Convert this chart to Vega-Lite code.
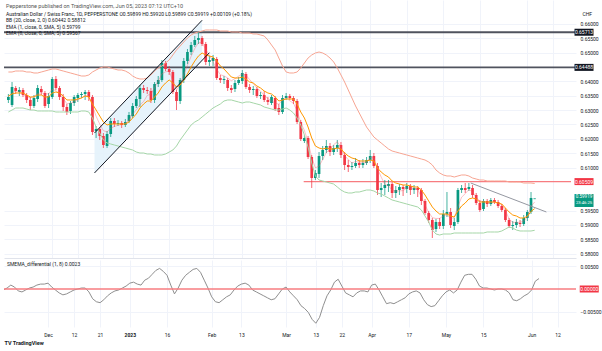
{
"$schema": "https://vega.github.io/schema/vega-lite/v6.json",
"autosize": {"type": "pad"},
"padding": {"left": 3, "top": 0, "right": 4, "bottom": 4},
"background": "#ffffff",
"bounds": "flush",
"spacing": 2,
"config": {"view": {"stroke": null}, "font": "Roboto"},
"datasets": {
"bars": [
{"i":-12,"o":0.63352,"h":0.63561,"l":0.63247,"c":0.63457,"bu":0.64327,"bl":0.62934,"e8":0.63491,"e1":0.63469,"d":-0.00022},
{"i":-11,"o":0.63178,"h":0.63979,"l":0.63108,"c":0.63805,"bu":0.64327,"bl":0.63003,"e8":0.63561,"e1":0.63583,"d":0.00022},
{"i":-10,"o":0.63770,"h":0.63840,"l":0.63561,"c":0.63666,"bu":0.64362,"bl":0.63073,"e8":0.63596,"e1":0.63683,"d":0.00087},
{"i":-9,"o":0.63631,"h":0.63805,"l":0.63491,"c":0.63700,"bu":0.64362,"bl":0.63073,"e8":0.63596,"e1":0.63639,"d":0.00043},
{"i":-8,"o":0.63700,"h":0.63770,"l":0.63457,"c":0.63526,"bu":0.64362,"bl":0.63073,"e8":0.63596,"e1":0.63553,"d":-0.00043},
{"i":-7,"o":0.63526,"h":0.63596,"l":0.63247,"c":0.63352,"bu":0.64327,"bl":0.63038,"e8":0.63526,"e1":0.63461,"d":-0.00065},
{"i":-6,"o":0.63352,"h":0.63457,"l":0.63003,"c":0.63143,"bu":0.64327,"bl":0.63003,"e8":0.63457,"e1":0.63435,"d":-0.00022},
{"i":-5,"o":0.63143,"h":0.63526,"l":0.63073,"c":0.63422,"bu":0.64293,"bl":0.63003,"e8":0.63457,"e1":0.63479,"d":0.00022},
{"i":-4,"o":0.63387,"h":0.63875,"l":0.63282,"c":0.63770,"bu":0.64293,"bl":0.62969,"e8":0.63526,"e1":0.63569,"d":0.00043},
{"i":-3,"o":0.63735,"h":0.63840,"l":0.63526,"c":0.63631,"bu":0.64327,"bl":0.62969,"e8":0.63526,"e1":0.63613,"d":0.00087},
{"i":-2,"o":0.63596,"h":0.63666,"l":0.63073,"c":0.63143,"bu":0.64362,"bl":0.62969,"e8":0.63457,"e1":0.63566,"d":0.00109},
{"i":-1,"o":0.63213,"h":0.63596,"l":0.63073,"c":0.63491,"bu":0.64397,"bl":0.62969,"e8":0.63457,"e1":0.63566,"d":0.00109},
{"i":0,"o":0.63457,"h":0.64153,"l":0.63387,"c":0.64084,"bu":0.64432,"bl":0.62969,"e8":0.63596,"e1":0.63726,"d":0.00130},
{"i":1,"o":0.64084,"h":0.64188,"l":0.63700,"c":0.63770,"bu":0.64432,"bl":0.62934,"e8":0.63631,"e1":0.63674,"d":0.00043},
{"i":2,"o":0.63770,"h":0.63840,"l":0.63352,"c":0.63457,"bu":0.64397,"bl":0.62934,"e8":0.63596,"e1":0.63574,"d":-0.00022},
{"i":3,"o":0.63457,"h":0.63561,"l":0.62969,"c":0.63108,"bu":0.64362,"bl":0.62934,"e8":0.63491,"e1":0.63404,"d":-0.00087},
{"i":4,"o":0.63108,"h":0.63213,"l":0.62829,"c":0.62934,"bu":0.64327,"bl":0.62934,"e8":0.63352,"e1":0.63222,"d":-0.00130},
{"i":5,"o":0.62969,"h":0.63317,"l":0.62864,"c":0.63247,"bu":0.64293,"bl":0.62934,"e8":0.63352,"e1":0.63243,"d":-0.00109},
{"i":6,"o":0.63247,"h":0.63526,"l":0.63143,"c":0.63457,"bu":0.64258,"bl":0.62934,"e8":0.63352,"e1":0.63287,"d":-0.00065},
{"i":7,"o":0.63422,"h":0.63596,"l":0.63282,"c":0.63526,"bu":0.64223,"bl":0.62934,"e8":0.63387,"e1":0.63365,"d":-0.00022},
{"i":8,"o":0.63526,"h":0.63631,"l":0.63422,"c":0.63561,"bu":0.64188,"bl":0.62969,"e8":0.63422,"e1":0.63422,"d":0},
{"i":9,"o":0.63561,"h":0.63700,"l":0.63352,"c":0.63631,"bu":0.64188,"bl":0.62969,"e8":0.63491,"e1":0.63513,"d":0.00022},
{"i":10,"o":0.63631,"h":0.63700,"l":0.63317,"c":0.63457,"bu":0.64223,"bl":0.62934,"e8":0.63457,"e1":0.63479,"d":0.00022},
{"i":11,"o":0.63457,"h":0.63526,"l":0.62132,"c":0.62237,"bu":0.64327,"bl":0.62725,"e8":0.63213,"e1":0.63148,"d":-0.00065},
{"i":12,"o":0.62272,"h":0.62446,"l":0.62028,"c":0.62341,"bu":0.64397,"bl":0.62411,"e8":0.63003,"e1":0.62786,"d":-0.00217},
{"i":13,"o":0.62341,"h":0.62411,"l":0.61958,"c":0.62098,"bu":0.64467,"bl":0.62202,"e8":0.62794,"e1":0.62511,"d":-0.00283},
{"i":14,"o":0.62098,"h":0.62202,"l":0.61680,"c":0.61784,"bu":0.64502,"bl":0.61958,"e8":0.62585,"e1":0.62281,"d":-0.00304},
{"i":15,"o":0.61749,"h":0.62272,"l":0.61680,"c":0.62167,"bu":0.64502,"bl":0.61854,"e8":0.62481,"e1":0.62242,"d":-0.00239},
{"i":16,"o":0.62167,"h":0.62725,"l":0.62063,"c":0.62620,"bu":0.64467,"bl":0.61819,"e8":0.62516,"e1":0.62364,"d":-0.00152},
{"i":17,"o":0.62620,"h":0.62725,"l":0.62411,"c":0.62516,"bu":0.64432,"bl":0.61784,"e8":0.62516,"e1":0.62429,"d":-0.00087},
{"i":18,"o":0.62516,"h":0.62655,"l":0.62446,"c":0.62551,"bu":0.64397,"bl":0.61749,"e8":0.62516,"e1":0.62473,"d":-0.00043},
{"i":19,"o":0.62551,"h":0.62620,"l":0.62376,"c":0.62481,"bu":0.64397,"bl":0.61714,"e8":0.62516,"e1":0.62494,"d":-0.00022},
{"i":20,"o":0.62481,"h":0.62690,"l":0.62411,"c":0.62585,"bu":0.64362,"bl":0.61680,"e8":0.62516,"e1":0.62538,"d":0.00022},
{"i":21,"o":0.62620,"h":0.62934,"l":0.62551,"c":0.62829,"bu":0.64293,"bl":0.61645,"e8":0.62585,"e1":0.62650,"d":0.00065},
{"i":22,"o":0.62794,"h":0.63247,"l":0.62725,"c":0.63143,"bu":0.64188,"bl":0.61610,"e8":0.62725,"e1":0.62855,"d":0.00130},
{"i":23,"o":0.63143,"h":0.63491,"l":0.63073,"c":0.63387,"bu":0.64118,"bl":0.61540,"e8":0.62864,"e1":0.63016,"d":0.00152},
{"i":24,"o":0.63387,"h":0.63875,"l":0.63108,"c":0.63770,"bu":0.64084,"bl":0.61505,"e8":0.63073,"e1":0.63182,"d":0.00109},
{"i":25,"o":0.63770,"h":0.63875,"l":0.63596,"c":0.63700,"bu":0.64084,"bl":0.61505,"e8":0.63213,"e1":0.63300,"d":0.00087},
{"i":26,"o":0.63700,"h":0.63805,"l":0.63561,"c":0.63666,"bu":0.64118,"bl":0.61470,"e8":0.63317,"e1":0.63513,"d":0.00196},
{"i":27,"o":0.63666,"h":0.63770,"l":0.63247,"c":0.63352,"bu":0.64223,"bl":0.61470,"e8":0.63317,"e1":0.63556,"d":0.00239},
{"i":28,"o":0.63352,"h":0.63979,"l":0.63247,"c":0.63909,"bu":0.64362,"bl":0.61436,"e8":0.63457,"e1":0.63783,"d":0.00326},
{"i":29,"o":0.63909,"h":0.64188,"l":0.63805,"c":0.64049,"bu":0.64467,"bl":0.61436,"e8":0.63596,"e1":0.64009,"d":0.00413},
{"i":30,"o":0.64049,"h":0.64746,"l":0.63979,"c":0.64641,"bu":0.64537,"bl":0.61436,"e8":0.63805,"e1":0.64262,"d":0.00457},
{"i":31,"o":0.64641,"h":0.64711,"l":0.64362,"c":0.64432,"bu":0.64641,"bl":0.61470,"e8":0.63944,"e1":0.64335,"d":0.00391},
{"i":32,"o":0.64432,"h":0.64537,"l":0.64223,"c":0.64327,"bu":0.64746,"bl":0.61540,"e8":0.64049,"e1":0.64353,"d":0.00304},
{"i":33,"o":0.64327,"h":0.64397,"l":0.63561,"c":0.63631,"bu":0.64920,"bl":0.61610,"e8":0.63944,"e1":0.64031,"d":0.00087},
{"i":34,"o":0.63631,"h":0.63700,"l":0.63003,"c":0.63317,"bu":0.65094,"bl":0.61749,"e8":0.63805,"e1":0.63696,"d":-0.00109},
{"i":35,"o":0.63317,"h":0.64118,"l":0.63213,"c":0.64049,"bu":0.65233,"bl":0.61958,"e8":0.63875,"e1":0.63897,"d":0.00022},
{"i":36,"o":0.64049,"h":0.64815,"l":0.63944,"c":0.64711,"bu":0.65373,"bl":0.62132,"e8":0.64049,"e1":0.64245,"d":0.00196},
{"i":37,"o":0.64711,"h":0.65129,"l":0.64606,"c":0.65024,"bu":0.65512,"bl":0.62307,"e8":0.64258,"e1":0.64562,"d":0.00304},
{"i":38,"o":0.65024,"h":0.65373,"l":0.64920,"c":0.65268,"bu":0.65617,"bl":0.62481,"e8":0.64502,"e1":0.64872,"d":0.00370},
{"i":39,"o":0.65268,"h":0.65582,"l":0.65199,"c":0.65443,"bu":0.65686,"bl":0.62585,"e8":0.64711,"e1":0.65146,"d":0.00435},
{"i":40,"o":0.65443,"h":0.65721,"l":0.65303,"c":0.65512,"bu":0.65721,"bl":0.62655,"e8":0.64885,"e1":0.65342,"d":0.00457},
{"i":41,"o":0.65512,"h":0.65582,"l":0.65233,"c":0.65303,"bu":0.65756,"bl":0.62760,"e8":0.64990,"e1":0.65360,"d":0.00370},
{"i":42,"o":0.65303,"h":0.65373,"l":0.64571,"c":0.64676,"bu":0.65791,"bl":0.62864,"e8":0.64920,"e1":0.65116,"d":0.00196},
{"i":43,"o":0.64676,"h":0.64885,"l":0.64537,"c":0.64746,"bu":0.65791,"bl":0.62969,"e8":0.64885,"e1":0.64907,"d":0.00022},
{"i":44,"o":0.64711,"h":0.64920,"l":0.64537,"c":0.64815,"bu":0.65791,"bl":0.63073,"e8":0.64850,"e1":0.64676,"d":-0.00174},
{"i":45,"o":0.64780,"h":0.64850,"l":0.64049,"c":0.64118,"bu":0.65791,"bl":0.63143,"e8":0.64711,"e1":0.64428,"d":-0.00283},
{"i":46,"o":0.64118,"h":0.64223,"l":0.63944,"c":0.64049,"bu":0.65756,"bl":0.63213,"e8":0.64537,"e1":0.64233,"d":-0.00304},
{"i":47,"o":0.64049,"h":0.64188,"l":0.63909,"c":0.64084,"bu":0.65756,"bl":0.63317,"e8":0.64432,"e1":0.64193,"d":-0.00239},
{"i":48,"o":0.64049,"h":0.64118,"l":0.63666,"c":0.63770,"bu":0.65756,"bl":0.63352,"e8":0.64293,"e1":0.64119,"d":-0.00174},
{"i":49,"o":0.63770,"h":0.63875,"l":0.63596,"c":0.63700,"bu":0.65721,"bl":0.63352,"e8":0.64153,"e1":0.64023,"d":-0.00130},
{"i":50,"o":0.63735,"h":0.64049,"l":0.63631,"c":0.63944,"bu":0.65721,"bl":0.63317,"e8":0.64118,"e1":0.64096,"d":-0.00022},
{"i":51,"o":0.63944,"h":0.64153,"l":0.63875,"c":0.64049,"bu":0.65721,"bl":0.63282,"e8":0.64118,"e1":0.64183,"d":0.00065},
{"i":52,"o":0.64014,"h":0.64397,"l":0.63909,"c":0.64293,"bu":0.65686,"bl":0.63247,"e8":0.64153,"e1":0.64262,"d":0.00109},
{"i":53,"o":0.64258,"h":0.64327,"l":0.63735,"c":0.63805,"bu":0.65686,"bl":0.63282,"e8":0.64084,"e1":0.64214,"d":0.00130},
{"i":54,"o":0.63805,"h":0.63909,"l":0.63596,"c":0.63700,"bu":0.65686,"bl":0.63282,"e8":0.63979,"e1":0.64066,"d":0.00087},
{"i":55,"o":0.63700,"h":0.63840,"l":0.63526,"c":0.63735,"bu":0.65652,"bl":0.63247,"e8":0.63944,"e1":0.63922,"d":-0.00022},
{"i":56,"o":0.63735,"h":0.63805,"l":0.63422,"c":0.63491,"bu":0.65652,"bl":0.63213,"e8":0.63840,"e1":0.63775,"d":-0.00065},
{"i":57,"o":0.63491,"h":0.63631,"l":0.63387,"c":0.63526,"bu":0.65617,"bl":0.63178,"e8":0.63770,"e1":0.63661,"d":-0.00109},
{"i":58,"o":0.63526,"h":0.63666,"l":0.63282,"c":0.63352,"bu":0.65582,"bl":0.63108,"e8":0.63666,"e1":0.63514,"d":-0.00152},
{"i":59,"o":0.63352,"h":0.63457,"l":0.63178,"c":0.63282,"bu":0.65443,"bl":0.63073,"e8":0.63596,"e1":0.63400,"d":-0.00196},
{"i":60,"o":0.63247,"h":0.63526,"l":0.63178,"c":0.63457,"bu":0.65268,"bl":0.63038,"e8":0.63561,"e1":0.63322,"d":-0.00239},
{"i":61,"o":0.63422,"h":0.63491,"l":0.62969,"c":0.63038,"bu":0.65094,"bl":0.63003,"e8":0.63457,"e1":0.63240,"d":-0.00217},
{"i":62,"o":0.63073,"h":0.63213,"l":0.62829,"c":0.62934,"bu":0.64815,"bl":0.63003,"e8":0.63317,"e1":0.63208,"d":-0.00109},
{"i":63,"o":0.62934,"h":0.63526,"l":0.62864,"c":0.63422,"bu":0.64537,"bl":0.63038,"e8":0.63352,"e1":0.63352,"d":0},
{"i":64,"o":0.63422,"h":0.63596,"l":0.63352,"c":0.63491,"bu":0.64327,"bl":0.63073,"e8":0.63387,"e1":0.63430,"d":0.00043},
{"i":65,"o":0.63491,"h":0.63561,"l":0.63352,"c":0.63422,"bu":0.64293,"bl":0.63003,"e8":0.63387,"e1":0.63322,"d":-0.00065},
{"i":66,"o":0.63422,"h":0.63491,"l":0.63213,"c":0.63317,"bu":0.64293,"bl":0.62899,"e8":0.63387,"e1":0.63235,"d":-0.00152},
{"i":67,"o":0.63317,"h":0.63387,"l":0.62516,"c":0.62585,"bu":0.64327,"bl":0.62725,"e8":0.63213,"e1":0.62974,"d":-0.00239},
{"i":68,"o":0.62585,"h":0.62655,"l":0.61923,"c":0.61993,"bu":0.64467,"bl":0.62481,"e8":0.62934,"e1":0.62564,"d":-0.00370},
{"i":69,"o":0.61923,"h":0.62132,"l":0.61854,"c":0.62028,"bu":0.64641,"bl":0.62132,"e8":0.62725,"e1":0.62290,"d":-0.00435},
{"i":70,"o":0.62028,"h":0.62098,"l":0.61296,"c":0.61366,"bu":0.64815,"bl":0.61714,"e8":0.62411,"e1":0.61889,"d":-0.00522},
{"i":71,"o":0.61366,"h":0.61436,"l":0.60286,"c":0.60634,"bu":0.64920,"bl":0.61157,"e8":0.62028,"e1":0.61354,"d":-0.00674},
{"i":72,"o":0.60634,"h":0.60913,"l":0.60564,"c":0.60809,"bu":0.64990,"bl":0.60704,"e8":0.61749,"e1":0.60988,"d":-0.00761},
{"i":73,"o":0.60774,"h":0.61540,"l":0.60634,"c":0.61401,"bu":0.65024,"bl":0.60564,"e8":0.61680,"e1":0.61050,"d":-0.00630},
{"i":74,"o":0.61401,"h":0.61749,"l":0.61261,"c":0.61610,"bu":0.64990,"bl":0.60530,"e8":0.61645,"e1":0.61275,"d":-0.00370},
{"i":75,"o":0.61610,"h":0.61958,"l":0.61505,"c":0.61749,"bu":0.64920,"bl":0.60495,"e8":0.61680,"e1":0.61528,"d":-0.00152},
{"i":76,"o":0.61749,"h":0.61854,"l":0.61401,"c":0.61540,"bu":0.64815,"bl":0.60460,"e8":0.61645,"e1":0.61623,"d":-0.00022},
{"i":77,"o":0.61540,"h":0.61784,"l":0.61436,"c":0.61680,"bu":0.64676,"bl":0.60425,"e8":0.61645,"e1":0.61797,"d":0.00152},
{"i":78,"o":0.61680,"h":0.61958,"l":0.61540,"c":0.61784,"bu":0.64467,"bl":0.60321,"e8":0.61680,"e1":0.61897,"d":0.00217},
{"i":79,"o":0.61784,"h":0.61889,"l":0.61331,"c":0.61436,"bu":0.64223,"bl":0.60216,"e8":0.61645,"e1":0.61710,"d":0.00065},
{"i":80,"o":0.61436,"h":0.61540,"l":0.60913,"c":0.61087,"bu":0.63979,"bl":0.60146,"e8":0.61505,"e1":0.61418,"d":-0.00087},
{"i":81,"o":0.61087,"h":0.61261,"l":0.60843,"c":0.61018,"bu":0.63700,"bl":0.60112,"e8":0.61401,"e1":0.61271,"d":-0.00130},
{"i":82,"o":0.61018,"h":0.61192,"l":0.60913,"c":0.61052,"bu":0.63422,"bl":0.60112,"e8":0.61331,"e1":0.61157,"d":-0.00174},
{"i":83,"o":0.61052,"h":0.61331,"l":0.60983,"c":0.61157,"bu":0.63143,"bl":0.60146,"e8":0.61296,"e1":0.61209,"d":-0.00087},
{"i":84,"o":0.61157,"h":0.61261,"l":0.60983,"c":0.61087,"bu":0.62899,"bl":0.60146,"e8":0.61227,"e1":0.61184,"d":-0.00043},
{"i":85,"o":0.61087,"h":0.61296,"l":0.60983,"c":0.61157,"bu":0.62655,"bl":0.60181,"e8":0.61227,"e1":0.61184,"d":-0.00043},
{"i":86,"o":0.61157,"h":0.61366,"l":0.61087,"c":0.61261,"bu":0.62411,"bl":0.60216,"e8":0.61227,"e1":0.61162,"d":-0.00065},
{"i":87,"o":0.61261,"h":0.61610,"l":0.61157,"c":0.61401,"bu":0.62237,"bl":0.60216,"e8":0.61261,"e1":0.61348,"d":0.00087},
{"i":88,"o":0.61401,"h":0.61505,"l":0.60983,"c":0.61052,"bu":0.62063,"bl":0.60181,"e8":0.61227,"e1":0.61336,"d":0.00109},
{"i":89,"o":0.61052,"h":0.61157,"l":0.60042,"c":0.60216,"bu":0.61958,"bl":0.60112,"e8":0.60983,"e1":0.60961,"d":-0.00022},
{"i":90,"o":0.60216,"h":0.60460,"l":0.59972,"c":0.60286,"bu":0.61854,"bl":0.60077,"e8":0.60843,"e1":0.60669,"d":-0.00174},
{"i":91,"o":0.60286,"h":0.60564,"l":0.60042,"c":0.60390,"bu":0.61749,"bl":0.60007,"e8":0.60739,"e1":0.60413,"d":-0.00326},
{"i":92,"o":0.60355,"h":0.60564,"l":0.60146,"c":0.60425,"bu":0.61645,"bl":0.59937,"e8":0.60669,"e1":0.60365,"d":-0.00304},
{"i":93,"o":0.60425,"h":0.60495,"l":0.59937,"c":0.60112,"bu":0.61575,"bl":0.59868,"e8":0.60530,"e1":0.60204,"d":-0.00326},
{"i":94,"o":0.60112,"h":0.60355,"l":0.59937,"c":0.60216,"bu":0.61540,"bl":0.59833,"e8":0.60460,"e1":0.60177,"d":-0.00283},
{"i":95,"o":0.60216,"h":0.60425,"l":0.60042,"c":0.60321,"bu":0.61505,"bl":0.59798,"e8":0.60425,"e1":0.60186,"d":-0.00239},
{"i":96,"o":0.60321,"h":0.60390,"l":0.60007,"c":0.60251,"bu":0.61470,"bl":0.59763,"e8":0.60390,"e1":0.60194,"d":-0.00196},
{"i":97,"o":0.60251,"h":0.60460,"l":0.60112,"c":0.60355,"bu":0.61436,"bl":0.59728,"e8":0.60390,"e1":0.60281,"d":-0.00109},
{"i":98,"o":0.60355,"h":0.60425,"l":0.60042,"c":0.60216,"bu":0.61401,"bl":0.59693,"e8":0.60355,"e1":0.60290,"d":-0.00065},
{"i":99,"o":0.60216,"h":0.60390,"l":0.60077,"c":0.60286,"bu":0.61366,"bl":0.59659,"e8":0.60321,"e1":0.60278,"d":-0.00043},
{"i":100,"o":0.60286,"h":0.60355,"l":0.59972,"c":0.60216,"bu":0.61331,"bl":0.59624,"e8":0.60321,"e1":0.60234,"d":-0.00087},
{"i":101,"o":0.60216,"h":0.60286,"l":0.59693,"c":0.59833,"bu":0.61296,"bl":0.59519,"e8":0.60216,"e1":0.59977,"d":-0.00239},
{"i":102,"o":0.59833,"h":0.59903,"l":0.59345,"c":0.59415,"bu":0.61261,"bl":0.59310,"e8":0.60042,"e1":0.59694,"d":-0.00348},
{"i":103,"o":0.59415,"h":0.59484,"l":0.59066,"c":0.59171,"bu":0.61192,"bl":0.59101,"e8":0.59833,"e1":0.59442,"d":-0.00391},
{"i":104,"o":0.59171,"h":0.59241,"l":0.58544,"c":0.58822,"bu":0.61087,"bl":0.58822,"e8":0.59624,"e1":0.59254,"d":-0.00370},
{"i":105,"o":0.58857,"h":0.59206,"l":0.58753,"c":0.59101,"bu":0.60913,"bl":0.58683,"e8":0.59484,"e1":0.59223,"d":-0.00261},
{"i":106,"o":0.59101,"h":0.59241,"l":0.58857,"c":0.58962,"bu":0.60809,"bl":0.58648,"e8":0.59380,"e1":0.59228,"d":-0.00152},
{"i":107,"o":0.58962,"h":0.59519,"l":0.58857,"c":0.59380,"bu":0.60739,"bl":0.58683,"e8":0.59380,"e1":0.59315,"d":-0.00065},
{"i":108,"o":0.59380,"h":0.60146,"l":0.59275,"c":0.59450,"bu":0.60704,"bl":0.58683,"e8":0.59380,"e1":0.59358,"d":-0.00022},
{"i":109,"o":0.59450,"h":0.59589,"l":0.58892,"c":0.58997,"bu":0.60704,"bl":0.58683,"e8":0.59310,"e1":0.59223,"d":-0.00087},
{"i":110,"o":0.58962,"h":0.59241,"l":0.58822,"c":0.59101,"bu":0.60669,"bl":0.58718,"e8":0.59275,"e1":0.59253,"d":-0.00022},
{"i":111,"o":0.59101,"h":0.60286,"l":0.59031,"c":0.60216,"bu":0.60704,"bl":0.58718,"e8":0.59484,"e1":0.59636,"d":0.00152},
{"i":112,"o":0.60216,"h":0.60390,"l":0.60112,"c":0.60286,"bu":0.60739,"bl":0.58718,"e8":0.59659,"e1":0.59963,"d":0.00304},
{"i":113,"o":0.60286,"h":0.60460,"l":0.60112,"c":0.60216,"bu":0.60739,"bl":0.58718,"e8":0.59763,"e1":0.60089,"d":0.00326},
{"i":114,"o":0.60251,"h":0.60460,"l":0.60181,"c":0.60321,"bu":0.60704,"bl":0.58718,"e8":0.59903,"e1":0.60229,"d":0.00326},
{"i":115,"o":0.60286,"h":0.60390,"l":0.59937,"c":0.60042,"bu":0.60634,"bl":0.58718,"e8":0.59937,"e1":0.60154,"d":0.00217},
{"i":116,"o":0.60042,"h":0.60112,"l":0.59693,"c":0.59763,"bu":0.60599,"bl":0.58718,"e8":0.59903,"e1":0.59968,"d":0.00065},
{"i":117,"o":0.59763,"h":0.59868,"l":0.59450,"c":0.59519,"bu":0.60564,"bl":0.58718,"e8":0.59798,"e1":0.59820,"d":0.00022},
{"i":118,"o":0.59554,"h":0.59903,"l":0.59484,"c":0.59833,"bu":0.60564,"bl":0.58718,"e8":0.59798,"e1":0.59820,"d":0.00022},
{"i":119,"o":0.59833,"h":0.59903,"l":0.59624,"c":0.59728,"bu":0.60530,"bl":0.58753,"e8":0.59798,"e1":0.59798,"d":0},
{"i":120,"o":0.59728,"h":0.59937,"l":0.59659,"c":0.59868,"bu":0.60530,"bl":0.58753,"e8":0.59798,"e1":0.59776,"d":-0.00022},
{"i":121,"o":0.59868,"h":0.59937,"l":0.59728,"c":0.59798,"bu":0.60530,"bl":0.58753,"e8":0.59798,"e1":0.59798,"d":0},
{"i":122,"o":0.59798,"h":0.59868,"l":0.59589,"c":0.59659,"bu":0.60530,"bl":0.58753,"e8":0.59763,"e1":0.59763,"d":0},
{"i":123,"o":0.59659,"h":0.59728,"l":0.59450,"c":0.59519,"bu":0.60530,"bl":0.58788,"e8":0.59728,"e1":0.59706,"d":-0.00022},
{"i":124,"o":0.59519,"h":0.59589,"l":0.59101,"c":0.59171,"bu":0.60530,"bl":0.58857,"e8":0.59589,"e1":0.59502,"d":-0.00087},
{"i":125,"o":0.59171,"h":0.59241,"l":0.58892,"c":0.58962,"bu":0.60495,"bl":0.58927,"e8":0.59450,"e1":0.59211,"d":-0.00239},
{"i":126,"o":0.58962,"h":0.59136,"l":0.58822,"c":0.58997,"bu":0.60495,"bl":0.58892,"e8":0.59345,"e1":0.59084,"d":-0.00261},
{"i":127,"o":0.58997,"h":0.59206,"l":0.58892,"c":0.59101,"bu":0.60495,"bl":0.58822,"e8":0.59310,"e1":0.59093,"d":-0.00217},
{"i":128,"o":0.59066,"h":0.59171,"l":0.58927,"c":0.59031,"bu":0.60495,"bl":0.58788,"e8":0.59241,"e1":0.59089,"d":-0.00152},
{"i":129,"o":0.59031,"h":0.59345,"l":0.58962,"c":0.59241,"bu":0.60460,"bl":0.58788,"e8":0.59241,"e1":0.59132,"d":-0.00109},
{"i":130,"o":0.59241,"h":0.59519,"l":0.59136,"c":0.59450,"bu":0.60460,"bl":0.58788,"e8":0.59300,"e1":0.59278,"d":-0.00022},
{"i":131,"o":0.59450,"h":0.60146,"l":0.59380,"c":0.59937,"bu":0.60460,"bl":0.58788,"e8":0.59470,"e1":0.59644,"d":0.00174},
{"i":132,"o":0.59899,"h":0.59920,"l":0.59899,"c":0.59919,"bu":0.60442,"bl":0.58812,"e8":0.59567,"e1":0.59799,"d":0.00232}
],
"chan": [{"i":11.56,"top":0.6220,"bot":0.6081},{"i":41.0,"top":0.6613,"bot":0.6474}],
"chanlines": [
{"g":"upper","i":11.56,"p":0.6220},{"g":"upper","i":41.0,"p":0.6613},
{"g":"lower","i":11.56,"p":0.6081},{"g":"lower","i":43.0,"p":0.6500}
],
"trend": [{"i":114.5,"p":0.6046},{"i":135.2,"p":0.5945}],
"blk": [{"p":0.65713,"lab":"0.65713"},{"p":0.64488,"lab":"0.64488"}],
"sup": [{"p":0.60509,"lab":"0.60509","from":68.8}],
"last": [{"p":0.59919,"lab":"0.59919","cd":"23:46:25"}],
"zero": [{"v":0,"lab":"0.00000"}]
},
"vconcat": [
{
"width": 572,
"height": 258,
"title": {"text": "Pepperstone published on TradingView.com, Jun 05, 2023 07:12 UTC+10", "subtitle": ["Australian Dollar / Swiss Franc, 1D, PEPPERSTONE  O0.59899 H0.59920 L0.59899 C0.59919 +0.00109 (+0.18%)", "BB (20, close, 2, 0)  0.60442  0.58812", "EMA (1, close, 0, SMA, 5)  0.59799", "EMA (8, close, 0, SMA, 5)  0.59567"], "anchor": "start", "frame": "group", "offset": -36.5, "dx": 2, "zindex": 1, "fontSize": 5.5, "fontWeight": "normal", "color": "#555555", "font": "Roboto", "subtitleFont": "Roboto", "subtitleFontSize": 5, "subtitleColor": "#131722", "subtitlePadding": 2.5, "subtitleLineHeight": 6.6},
"layer": [
{
"data": {"name": "chan"},
"mark": {"type": "area", "color": "#e3f2fb", "opacity": 0.9, "clip": true},
"encoding": {
"x": {"field": "i", "type": "quantitative", "scale": {"domain": [-11.83, 141.94], "nice": false, "zero": false}, "axis": {"values": [0,7,14,22,32,44,52,64,72,79,87,97,107,117,130,137], "tickCount": 100, "labels": false, "ticks": false, "domain": true, "domainColor": "#e0e3eb", "grid": true, "gridColor": "#f0f3fa", "title": null}},
"y": {"field": "top", "type": "quantitative", "scale": {"domain": [0.57847, 0.66836], "nice": false, "zero": false}, "axis": {"orient": "right", "values": [0.58,0.585,0.59,0.595,0.61,0.615,0.62,0.625,0.63,0.635,0.64,0.65,0.655,0.66], "tickCount": 100, "format": ".5f", "labelFontSize": 5, "labelColor": "#131722", "labelPadding": 4, "labelFont": "Roboto", "labelOverlap": false, "labelFlush": false, "ticks": false, "domain": false, "grid": true, "gridColor": "#f0f3fa", "title": "CHF", "titleAngle": 0, "titleAnchor": "end", "titleAlign": "left", "titleBaseline": "middle", "titleFontSize": 5, "titleFontWeight": "normal", "titleColor": "#131722", "titleX": 6, "titleY": 13}},
"y2": {"field": "bot"}
}
},
{
"data": {"name": "blk"},
"mark": {"type": "rule", "color": "#50535e", "strokeWidth": 1.8, "clip": true},
"encoding": {
"y": {"field": "p", "type": "quantitative"}
}
},
{
"data": {"name": "sup"},
"mark": {"type": "rule", "color": "#f77c80", "strokeWidth": 1.4, "clip": true},
"encoding": {
"x": {"field": "from", "type": "quantitative"},
"x2": {"datum": 141.94},
"y": {"field": "p", "type": "quantitative"}
}
},
{
"data": {"name": "bars"},
"mark": {"type": "rule", "strokeWidth": 1, "opacity": 0.75, "clip": true},
"encoding": {
"x": {"field": "i", "type": "quantitative"},
"y": {"field": "l", "type": "quantitative"},
"y2": {"field": "h"},
"color": {"condition": {"test": "datum.c >= datum.o", "value": "#089981"}, "value": "#f23645"}
}
},
{
"data": {"name": "bars"},
"mark": {"type": "bar", "size": 2.7, "clip": true},
"encoding": {
"x": {"field": "i", "type": "quantitative"},
"y": {"field": "o", "type": "quantitative"},
"y2": {"field": "c"},
"color": {"condition": {"test": "datum.c >= datum.o", "value": "#089981"}, "value": "#f23645"}
}
},
{
"data": {"name": "bars"},
"mark": {"type": "line", "color": "#f7a592", "strokeWidth": 1, "clip": true},
"encoding": {
"x": {"field": "i", "type": "quantitative"},
"y": {"field": "bu", "type": "quantitative"}
}
},
{
"data": {"name": "bars"},
"mark": {"type": "line", "color": "#a5d6a7", "strokeWidth": 1, "clip": true},
"encoding": {
"x": {"field": "i", "type": "quantitative"},
"y": {"field": "bl", "type": "quantitative"}
}
},
{
"data": {"name": "bars"},
"mark": {"type": "line", "color": "#f7525f", "strokeWidth": 0.8, "opacity": 0.45, "clip": true},
"encoding": {
"x": {"field": "i", "type": "quantitative"},
"y": {"field": "e1", "type": "quantitative"}
}
},
{
"data": {"name": "bars"},
"mark": {"type": "line", "color": "#ff9800", "strokeWidth": 1, "clip": true},
"encoding": {
"x": {"field": "i", "type": "quantitative"},
"y": {"field": "e8", "type": "quantitative"}
}
},
{
"data": {"name": "chanlines"},
"mark": {"type": "line", "color": "#131722", "strokeWidth": 1, "clip": true},
"encoding": {
"x": {"field": "i", "type": "quantitative"},
"y": {"field": "p", "type": "quantitative"},
"detail": {"field": "g", "type": "nominal"}
}
},
{
"data": {"name": "trend"},
"mark": {"type": "line", "color": "#9598a1", "strokeWidth": 1, "clip": true},
"encoding": {
"x": {"field": "i", "type": "quantitative"},
"y": {"field": "p", "type": "quantitative"}
}
},
{
"data": {"name": "blk"},
"mark": {"type": "tick", "orient": "horizontal", "size": 19, "thickness": 7, "color": "#131722", "opacity": 1, "clip": false},
"encoding": {
"x": {"datum": 145.5, "type": "quantitative"},
"y": {"field": "p", "type": "quantitative"}
}
},
{
"data": {"name": "sup"},
"mark": {"type": "tick", "orient": "horizontal", "size": 19, "thickness": 7, "color": "#f23645", "opacity": 1, "clip": false},
"encoding": {
"x": {"datum": 145.5, "type": "quantitative"},
"y": {"field": "p", "type": "quantitative"}
}
},
{
"data": {"name": "last"},
"mark": {"type": "tick", "orient": "horizontal", "size": 19, "thickness": 13, "yOffset": 2, "color": "#089981", "opacity": 1, "clip": false},
"encoding": {
"x": {"datum": 145.5, "type": "quantitative"},
"y": {"field": "p", "type": "quantitative"}
}
},
{
"data": {"name": "blk"},
"mark": {"type": "text", "fontSize": 5, "color": "#ffffff", "align": "center", "baseline": "middle", "font": "Roboto", "clip": false},
"encoding": {
"x": {"datum": 145.5, "type": "quantitative"},
"y": {"field": "p", "type": "quantitative"},
"text": {"field": "lab"}
}
},
{
"data": {"name": "sup"},
"mark": {"type": "text", "fontSize": 5, "color": "#ffffff", "align": "center", "baseline": "middle", "font": "Roboto", "clip": false},
"encoding": {
"x": {"datum": 145.5, "type": "quantitative"},
"y": {"field": "p", "type": "quantitative"},
"text": {"field": "lab"}
}
},
{
"data": {"name": "last"},
"mark": {"type": "text", "fontSize": 4.5, "color": "#ffffff", "align": "center", "baseline": "middle", "dy": -1.4, "font": "Roboto", "clip": false},
"encoding": {
"x": {"datum": 145.5, "type": "quantitative"},
"y": {"field": "p", "type": "quantitative"},
"text": {"field": "lab"}
}
},
{
"data": {"name": "last"},
"mark": {"type": "text", "fontSize": 4.2, "color": "#ffffff", "align": "center", "baseline": "middle", "dy": 4.8, "font": "Roboto", "clip": false},
"encoding": {
"x": {"datum": 145.5, "type": "quantitative"},
"y": {"field": "p", "type": "quantitative"},
"text": {"field": "cd"}
}
}
]
},
{
"width": 572,
"height": 67,
"title": {"text": "SMEMA_differential (1, 8)  0.0023", "anchor": "start", "frame": "group", "offset": -7, "dx": 3, "zindex": 1, "fontSize": 5, "fontWeight": "normal", "color": "#131722", "font": "Roboto"},
"layer": [
{
"data": {"name": "bars"},
"mark": {"type": "line", "color": "#8f8f8f", "strokeWidth": 1, "clip": true},
"encoding": {
"x": {"field": "i", "type": "quantitative", "scale": {"domain": [-11.83, 141.94], "nice": false, "zero": false}, "axis": {"values": [0,7,14,22,32,44,52,64,72,79,87,97,107,117,130,137], "tickCount": 100, "labelExpr": "['Dec','12','21','2023','16','Feb','13','Mar','13','22','Apr','17','May','15','Jun','12'][indexof([0,7,14,22,32,44,52,64,72,79,87,97,107,117,130,137], datum.value)]", "labelFontSize": 5, "labelFontWeight": {"condition": {"test": "datum.value == 22", "value": "bold"}, "value": "normal"}, "labelColor": "#131722", "labelFont": "Roboto", "labelPadding": 5, "labelFlush": false, "labelOverlap": false, "ticks": false, "domain": false, "grid": true, "gridColor": "#f0f3fa", "title": "TV TradingView", "titleAnchor": "start", "titleAlign": "left", "titleFontSize": 5.5, "titleFontWeight": "bold", "titleColor": "#131722", "titlePadding": 3, "titleFont": "Roboto"}},
"y": {"field": "d", "type": "quantitative", "scale": {"domain": [-0.00844, 0.00644], "nice": false, "zero": false}, "axis": {"orient": "right", "values": [-0.005, 0.005], "tickCount": 100, "format": ".5f", "labelFontSize": 5, "labelColor": "#131722", "labelFont": "Roboto", "labelPadding": 4, "labelFlush": false, "labelOverlap": false, "ticks": false, "domain": false, "grid": true, "gridColor": "#f0f3fa", "title": null}}
}
},
{
"data": {"name": "zero"},
"mark": {"type": "rule", "color": "#f77c80", "strokeWidth": 1.4},
"encoding": {
"y": {"field": "v", "type": "quantitative"}
}
},
{
"data": {"name": "zero"},
"mark": {"type": "tick", "orient": "horizontal", "size": 19, "thickness": 7, "color": "#f23645", "opacity": 1, "clip": false},
"encoding": {
"x": {"datum": 145.5, "type": "quantitative"},
"y": {"field": "v", "type": "quantitative"}
}
},
{
"data": {"name": "zero"},
"mark": {"type": "text", "fontSize": 5, "color": "#ffffff", "align": "center", "baseline": "middle", "font": "Roboto", "clip": false},
"encoding": {
"x": {"datum": 145.5, "type": "quantitative"},
"y": {"field": "v", "type": "quantitative"},
"text": {"field": "lab"}
}
}
]
}
]
}
